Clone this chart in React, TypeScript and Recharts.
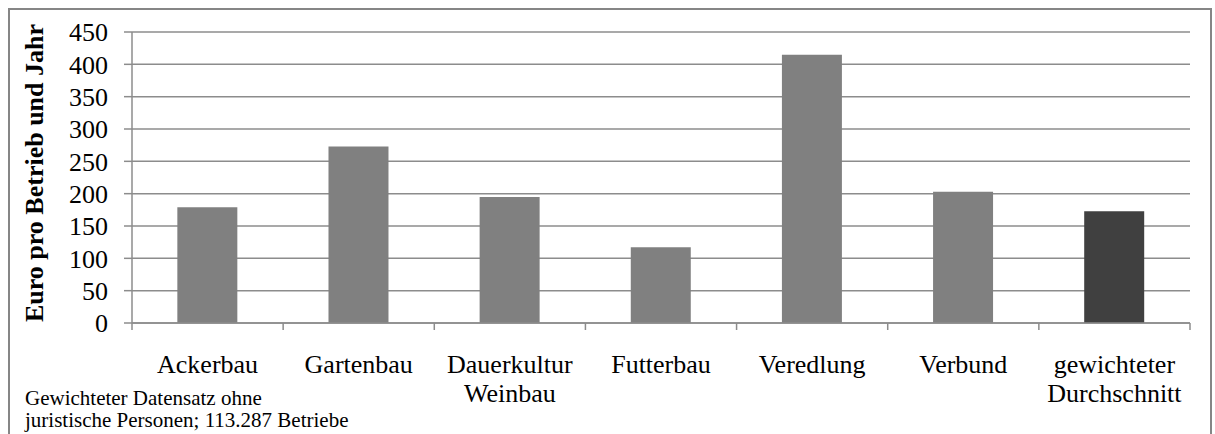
import React from "react"
import { BarChart, Bar, XAxis, YAxis, CartesianGrid, Cell } from "recharts"

const categories = [
  "Ackerbau",
  "Gartenbau",
  "Dauerkultur\nWeinbau",
  "Futterbau",
  "Veredlung",
  "Verbund",
  "gewichteter\nDurchschnitt",
]
const values = [179, 273, 195, 117, 415, 203, 173]
const yTicks = [0, 50, 100, 150, 200, 250, 300, 350, 400, 450]
const yLabel = "Euro pro Betrieb und Jahr"
const footnote = ["Gewichteter Datensatz ohne", "juristische Personen; 113.287 Betriebe"]

const data = categories.map((name, i) => ({ name, value: values[i] }))

const W = 1215
const H = 434
const xAxisHeight = 30
const margin = { top: 32, right: 25, bottom: 111 - xAxisHeight, left: 0 }
const axisY = 323
const plotLeft = 132
const band = (W - margin.right - plotLeft) / categories.length
const grid = "#8c8c8c"
const font = "Liberation Serif, Times New Roman, serif"
const textStyle = { fontFamily: font }

function CategoryTick(props: any) {
  const { x, payload, index } = props
  const half = payload && payload.offset ? payload.offset : band / 2
  const lines = String(payload.value).split("\n")
  return (
    <g>
      <line x1={x - half} x2={x - half} y1={axisY} y2={axisY + 7} stroke={grid} strokeWidth={1.5} />
      {index === categories.length - 1 && (
        <line x1={x + half} x2={x + half} y1={axisY} y2={axisY + 7} stroke={grid} strokeWidth={1.5} />
      )}
      {lines.map((l, i) => (
        <text
          key={i}
          x={x}
          y={axisY + 50 + i * 29}
          textAnchor="middle"
          fontSize={26}
          style={textStyle}
          fill="#000"
        >
          {l}
        </text>
      ))}
    </g>
  )
}

export default function App() {
  return (
    <div style={{ position: "absolute", left: 0, top: 0, width: W, height: H, background: "#fff" }}>
      <svg width={W} height={H} style={{ position: "absolute", left: 0, top: 0 }}>
        <rect x={9} y={9} width={1202} height={500} fill="none" stroke="#868686" strokeWidth={2} />
        {footnote.map((t, i) => (
          <text key={i} x={25} y={405 + i * 22} fontSize={21} style={textStyle} fill="#000">
            {t}
          </text>
        ))}
        <text
          transform={`translate(43, 173) rotate(-90)`}
          textAnchor="middle"
          fontSize={26}
          fontWeight="bold"
          style={textStyle}
          fill="#000"
        >
          {yLabel}
        </text>
      </svg>
      <div style={{ position: "absolute", left: 0, top: 0 }}>
        <BarChart width={W} height={H} data={data} margin={margin} barCategoryGap="30%">
          <CartesianGrid vertical={false} stroke={grid} strokeWidth={1.5} />
          <XAxis
            dataKey="name"
            height={xAxisHeight}
            interval={0}
            tickLine={false}
            axisLine={{ stroke: grid, strokeWidth: 1.5 }}
            tick={<CategoryTick />}
          />
          <YAxis
            width={plotLeft}
            domain={[0, 450]}
            ticks={yTicks}
            interval={0}
            tickSize={8}
            tickMargin={16}
            tickLine={{ stroke: grid, strokeWidth: 1.5 }}
            axisLine={{ stroke: grid, strokeWidth: 1.5 }}
            tick={{ fontSize: 26, fill: "#000", style: textStyle }}
          />
          <Bar dataKey="value" isAnimationActive={false}>
            {data.map((d, i) => (
              <Cell key={d.name} fill={i === data.length - 1 ? "#404040" : "#808080"} />
            ))}
          </Bar>
        </BarChart>
      </div>
    </div>
  )
}
